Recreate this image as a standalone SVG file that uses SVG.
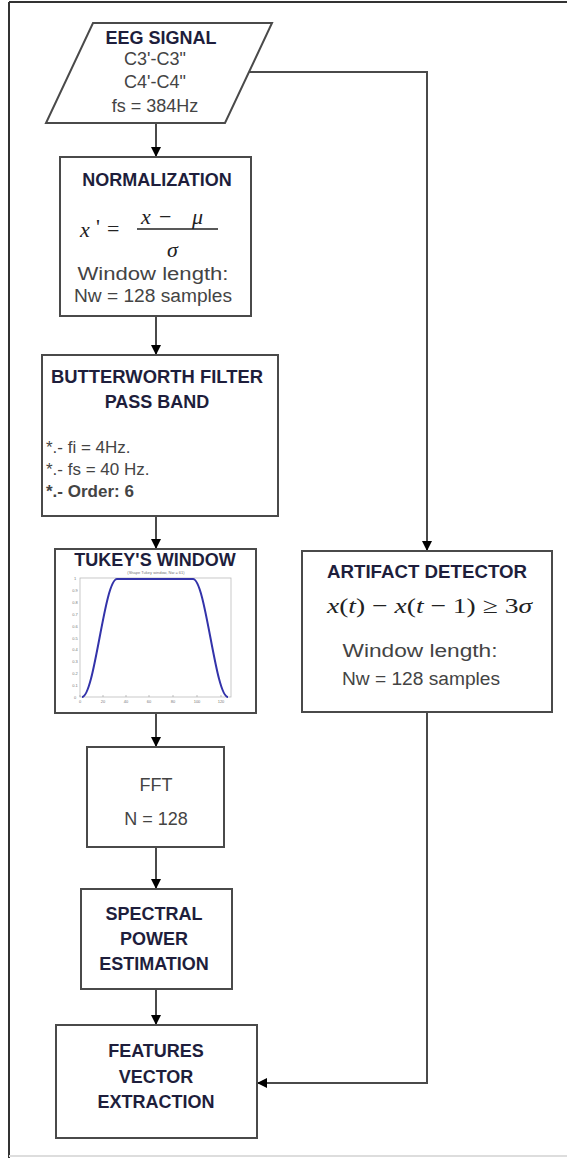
<svg xmlns="http://www.w3.org/2000/svg" width="567" height="1158" viewBox="0 0 567 1158">
<defs>
<marker id="arr" viewBox="0 0 10 10" refX="10" refY="5" markerWidth="10" markerHeight="10" markerUnits="userSpaceOnUse" orient="auto">
<path d="M0,0 L10,5 L0,10 z" fill="#000"/>
</marker>
<style>
.box{fill:#fff;stroke:#4a4a4a;stroke-width:2}
.con{fill:none;stroke:#4a4a4a;stroke-width:2}
.h{font-family:"Liberation Sans",Arial,sans-serif;font-weight:bold;font-size:18px;fill:#1e1e3c;text-anchor:middle}
.t{font-family:"Liberation Sans",Arial,sans-serif;font-size:18px;fill:#444;text-anchor:middle}
.tl{font-family:"Liberation Sans",Arial,sans-serif;font-size:17px;fill:#444}
.m{font-family:"Liberation Serif","Times New Roman",serif;font-size:22px;fill:#222}
.tick{font-family:"Liberation Sans",Arial,sans-serif;font-size:4px;fill:#777;text-anchor:middle}
</style>
</defs>
<rect width="567" height="1158" fill="#fff"/>
<g id="frame">
<line x1="9" y1="2" x2="567" y2="2" stroke="#333" stroke-width="2"/>
<line x1="9" y1="2" x2="9" y2="1158" stroke="#333" stroke-width="2"/>
<line x1="9" y1="1156" x2="567" y2="1156" stroke="#ddd" stroke-width="2"/>
</g>
<g id="connectors">
<line class="con" x1="156" y1="123" x2="156" y2="157" marker-end="url(#arr)"/>
<line class="con" x1="156" y1="316" x2="156" y2="355" marker-end="url(#arr)"/>
<line class="con" x1="156" y1="516" x2="156" y2="549" marker-end="url(#arr)"/>
<line class="con" x1="156" y1="713" x2="156" y2="747" marker-end="url(#arr)"/>
<line class="con" x1="156" y1="847" x2="156" y2="889" marker-end="url(#arr)"/>
<line class="con" x1="156" y1="989" x2="156" y2="1025" marker-end="url(#arr)"/>
<polyline class="con" points="249,72 427,72 427,551" marker-end="url(#arr)"/>
<polyline class="con" points="427,712 427,1083 257,1083" marker-end="url(#arr)"/>
</g>
<g id="eeg">
<polygon class="box" points="93,23 272,23 225,123 46,123"/>
<text class="h" x="161" y="44">EEG SIGNAL</text>
<text class="t" x="155" y="65">C3'-C3"</text>
<text class="t" x="155" y="88">C4'-C4"</text>
<text class="t" x="155" y="112">fs = 384Hz</text>
</g>
<g id="normalization">
<rect class="box" x="60" y="157" width="191" height="159"/>
<text class="h" x="157" y="186">NORMALIZATION</text>
<text class="m" x="80" y="237" font-style="italic" font-size="28">x</text>
<text class="m" x="96" y="234" font-size="18">'</text>
<text class="m" x="107" y="236" font-size="24">=</text>
<text class="m" x="141" y="224" font-style="italic">x</text>
<text class="m" x="159" y="224">−</text>
<text class="m" x="192" y="224" font-style="italic">μ</text>
<line x1="137" y1="229" x2="218" y2="229" stroke="#222" stroke-width="1.3"/>
<text class="m" x="167" y="257" font-style="italic">σ</text>
<text class="t" x="153" y="280" font-size="20" textLength="151" lengthAdjust="spacingAndGlyphs">Window length:</text>
<text class="t" x="153" y="302" textLength="158" lengthAdjust="spacingAndGlyphs">Nw = 128 samples</text>
</g>
<g id="butterworth">
<rect class="box" x="42" y="355" width="236" height="161"/>
<text class="h" x="157" y="383" textLength="212" lengthAdjust="spacingAndGlyphs">BUTTERWORTH FILTER</text>
<text class="h" x="157" y="408">PASS BAND</text>
<text class="tl" x="46" y="453">*.- fi = 4Hz.</text>
<text class="tl" x="46" y="475">*.- fs = 40 Hz.</text>
<text class="tl" x="46" y="497" font-weight="bold" fill="#1e1e3c">*.- Order: 6</text>
</g>
<g id="tukey">
<rect class="box" x="55" y="549" width="201" height="164"/>
<text class="h" x="155" y="566">TUKEY'S WINDOW</text>
<text class="tick" x="156" y="574">(Shape Tukey window, Nw = 61)</text>
<rect x="80" y="578" width="151" height="119" fill="#fff" stroke="#bbb" stroke-width="0.8"/>
<g stroke="#999" stroke-width="0.6">
<line x1="80" y1="697" x2="80" y2="695"/><line x1="103" y1="697" x2="103" y2="695"/><line x1="126" y1="697" x2="126" y2="695"/><line x1="149" y1="697" x2="149" y2="695"/><line x1="173" y1="697" x2="173" y2="695"/><line x1="197" y1="697" x2="197" y2="695"/><line x1="221" y1="697" x2="221" y2="695"/>
</g>
<text class="tick" x="80" y="703">0</text><text class="tick" x="103" y="703">20</text><text class="tick" x="126" y="703">40</text><text class="tick" x="149" y="703">60</text><text class="tick" x="173" y="703">80</text><text class="tick" x="197" y="703">100</text><text class="tick" x="221" y="703">120</text>
<text class="tick" x="75" y="699">0</text><text class="tick" x="75" y="687">0.1</text><text class="tick" x="75" y="675">0.2</text><text class="tick" x="75" y="663">0.3</text><text class="tick" x="75" y="651">0.4</text><text class="tick" x="75" y="640">0.5</text><text class="tick" x="75" y="628">0.6</text><text class="tick" x="75" y="616">0.7</text><text class="tick" x="75" y="604">0.8</text><text class="tick" x="75" y="592">0.9</text><text class="tick" x="75" y="580">1</text>
<path d="M82,697 C94.7,697 104.3,579 117,579 L193,579 C205.7,579 215.3,697 228,697" fill="none" stroke="#3333aa" stroke-width="2"/>
</g>
<g id="fft">
<rect class="box" x="87" y="747" width="137" height="100"/>
<text class="t" x="156" y="791" fill="#1e1e3c">FFT</text>
<text class="t" x="156" y="825">N = 128</text>
</g>
<g id="spectral">
<rect class="box" x="81" y="889" width="151" height="100"/>
<text class="h" x="154" y="920">SPECTRAL</text>
<text class="h" x="154" y="945">POWER</text>
<text class="h" x="154" y="970">ESTIMATION</text>
</g>
<g id="features">
<rect class="box" x="56" y="1025" width="201" height="113"/>
<text class="h" x="156" y="1057">FEATURES</text>
<text class="h" x="156" y="1083">VECTOR</text>
<text class="h" x="156" y="1108">EXTRACTION</text>
</g>
<g id="artifact">
<rect class="box" x="302" y="551" width="250" height="161"/>
<text class="h" x="427" y="578" textLength="200" lengthAdjust="spacingAndGlyphs">ARTIFACT DETECTOR</text>
<text class="m" x="327" y="613" font-size="24" textLength="205" lengthAdjust="spacingAndGlyphs"><tspan font-style="italic">x</tspan>(<tspan font-style="italic">t</tspan>) − <tspan font-style="italic">x</tspan>(<tspan font-style="italic">t</tspan> − 1) ≥ 3<tspan font-style="italic">σ</tspan></text>
<text class="t" x="420" y="657" font-size="20" textLength="155" lengthAdjust="spacingAndGlyphs">Window length:</text>
<text class="t" x="421" y="685" font-size="17" textLength="158" lengthAdjust="spacingAndGlyphs">Nw = 128 samples</text>
</g>
</svg>
